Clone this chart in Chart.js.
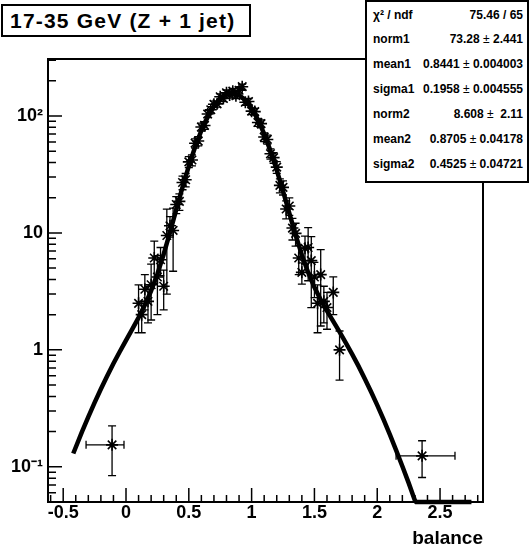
<!DOCTYPE html>
<html>
<head>
<meta charset="utf-8">
<script src="https://cdn.jsdelivr.net/npm/chart.js@4.4.1/dist/chart.umd.min.js"></script>
<style>
html,body{margin:0;padding:0;background:#fff;}
#wrap{position:relative;width:531px;height:551px;overflow:hidden;background:#fff;}
#c{position:absolute;left:0;top:0;}
#title{position:absolute;left:1px;top:4px;width:250px;height:33px;box-sizing:border-box;border:2px solid #000;background:#fff;
  font:bold 21px "Liberation Sans",Arial,sans-serif;letter-spacing:1.2px;line-height:29px;padding-left:7px;white-space:nowrap;color:#000;}
#stats{position:absolute;left:365px;top:0;width:164px;height:183px;box-sizing:border-box;border:2px solid #000;background:#fff;
  font:bold 12px "Liberation Sans",Arial,sans-serif;letter-spacing:0;padding:0.6px 4px 0 6px;color:#000;}
.row{display:flex;justify-content:space-between;height:24.83px;line-height:24.83px;white-space:pre;}
.pm{font-weight:normal;}
</style>
</head>
<body>
<div id="wrap">
<canvas id="c" width="531" height="551"></canvas>
<div id="title">17-35 GeV (Z + 1 jet)</div>
<div id="stats"></div>
</div>
<script>
// ---- fit curve ----
const fitX = [-0.42,-0.40,-0.35,-0.30,-0.25,-0.20,-0.15,-0.10,-0.05,0.00,0.05,0.10,0.15,0.20,0.25,0.30,0.35,0.40,0.45,0.50,
  0.55,0.60,0.65,0.70,0.75,0.80,0.85,0.90,0.95,1.00,1.05,1.10,1.15,1.20,1.25,1.30,1.35,1.40,1.45,1.50,
  1.55,1.60,1.65,1.70,1.75,1.80,1.85,1.90,1.95,2.00,2.05,2.10,2.15,2.20,2.25,2.30,2.31,2.75];
const fitY = [0.130,0.147,0.200,0.267,0.354,0.462,0.597,0.763,0.963,1.207,1.506,1.889,2.415,3.20,4.46,6.57,10.11,15.83,24.64,37.32,
  54.26,75.03,98.09,120.9,140.3,153.1,156.8,150.9,136.5,116.0,92.9,70.2,50.3,34.4,22.76,14.76,9.63,6.48,4.59,3.43,
  2.68,2.156,1.75,1.425,1.150,0.921,0.729,0.570,0.441,0.337,0.254,0.189,0.139,0.101,0.0728,0.0516,0.05,0.05];

// ---- histogram points ----
const binX = [0.100,0.125,0.150,0.175,0.200,0.225,0.250,0.275,0.300,0.325,0.350,0.375,0.400,0.425,0.450,0.475,0.500,0.525,0.550,0.575,
  0.600,0.625,0.650,0.675,0.700,0.725,0.750,0.775,0.800,0.825,0.850,0.875,0.900,0.925,0.950,0.975,1.000,1.025,1.050,1.075,
  1.100,1.125,1.150,1.175,1.200,1.225,1.250,1.275,1.300,1.325,1.350,1.375,1.400,1.425,1.450,1.475,1.500,1.525,1.550,1.575,
  1.600,1.650,1.700];
const binY = [2.5,2.0,3.3,2.6,3.6,6.1,4.2,5.9,3.5,9.5,11.5,10.5,17.5,18.6,27.0,28.5,40.5,42.0,58.5,61.0,
  80.5,83.0,104,113,126,127,146,141,158,151,163,149,166,178,131,133,110,109,88,86,
  66,63,47.5,44.0,36.5,25.5,24.5,16.0,17.0,11.0,9.9,6.1,4.6,7.4,7.5,5.8,4.2,2.5,4.4,2.6,
  2.3,3.1,1.0];
const binErrY = [1.1,0.6,1.1,0.9,1.8,2.4,2.2,1.6,1.3,6.5,2.3,5.8,2.9,3.0,3.6,3.7,4.4,4.5,5.3,5.4,
  6.2,6.3,7.0,7.3,7.7,7.8,8.3,8.2,8.7,8.5,8.8,8.4,8.9,9.2,7.9,8.0,7.2,7.2,6.5,6.4,
  5.6,5.5,4.8,4.6,4.2,3.5,3.4,2.8,2.9,2.3,2.2,1.7,0.95,2.0,3.6,3.5,1.4,1.1,2.8,0.9,
  0.8,1.1,0.45];
const binHalfWidth = 0.0125;

// ---- wide tail bins ----
const tailX = [-0.111, 2.357];
const tailY = [0.154, 0.124];
const tailErrY = [0.070, 0.043];
const tailErrXLow = [0.207, 0.207];
const tailErrXHigh = [0.095, 0.262];

// ---- axes ----
const xRange = [-0.621, 2.842];
const yRange = [0.05, 307];
const xTicks = [-0.5, 0, 0.5, 1, 1.5, 2, 2.5];
const xTickLabels = ['-0.5', '0', '0.5', '1', '1.5', '2', '2.5'];
const yTicks = [0.1, 1, 10, 100];
const yTickLabels = ['10\u207B\u00B9', '1', '10', '10\u00B2'];
const xTitle = 'balance';

// ---- stats box ----
const statLabels = ['\u03C7\u00B2 / ndf', 'norm1', 'mean1', 'sigma1', 'norm2', 'mean2', 'sigma2'];
const statValues = ['75.46 / 65', '73.28 \u00B1 2.441', '0.8441 \u00B1 0.004003', '0.1958 \u00B1 0.004555',
  '8.608 \u00B1  2.11', '0.8705 \u00B1 0.04178', '0.4525 \u00B1 0.04721'];

const statsEl = document.getElementById('stats');
statLabels.forEach((lab, i) => {
  const row = document.createElement('div'); row.className = 'row';
  const l = document.createElement('span'); l.textContent = lab;
  const v = document.createElement('span');
  const parts = statValues[i].split('\u00B1');
  v.appendChild(document.createTextNode(parts[0]));
  if (parts.length > 1) {
    const pm = document.createElement('span'); pm.className = 'pm'; pm.textContent = '\u00B1';
    v.appendChild(pm); v.appendChild(document.createTextNode(parts[1]));
  }
  row.appendChild(l); row.appendChild(v); statsEl.appendChild(row);
});

const points = binX.map((x, i) => ({x, y: binY[i]})).concat(tailX.map((x, i) => ({x, y: tailY[i]})));
const errs = binX.map((x, i) => ({exl: binHalfWidth, exh: binHalfWidth, ey: binErrY[i]}))
  .concat(tailX.map((x, i) => ({exl: tailErrXLow[i], exh: tailErrXHigh[i], ey: tailErrY[i]})));

const errorBars = {
  id: 'errorBars',
  afterDatasetsDraw(chart) {
    const {ctx, scales: {x, y}} = chart;
    ctx.save();
    ctx.strokeStyle = '#000'; ctx.lineWidth = 1.3;
    ctx.beginPath();
    chart.data.datasets.forEach(ds => {
      if (!ds.errors) return;
      ds.data.forEach((p, i) => {
        const e = ds.errors[i];
        const px = x.getPixelForValue(p.x), py = y.getPixelForValue(p.y);
        const lo = Math.max(p.y - e.ey, y.min);
        const yl = y.getPixelForValue(lo), yh = y.getPixelForValue(p.y + e.ey);
        ctx.moveTo(px, yl); ctx.lineTo(px, yh);
        ctx.moveTo(px - 4, yh); ctx.lineTo(px + 4, yh);
        if (p.y - e.ey > y.min) { ctx.moveTo(px - 4, yl); ctx.lineTo(px + 4, yl); }
        const xl = x.getPixelForValue(p.x - e.exl), xh = x.getPixelForValue(p.x + e.exh);
        ctx.moveTo(xl, py); ctx.lineTo(xh, py);
        if (xh - xl > 8) {
          ctx.moveTo(xl, py - 4); ctx.lineTo(xl, py + 4);
          ctx.moveTo(xh, py - 4); ctx.lineTo(xh, py + 4);
        }
      });
    });
    ctx.stroke();
    ctx.restore();
  }
};

const frameTicks = {
  id: 'frameTicks',
  afterDraw(chart) {
    const {ctx, chartArea: a, scales: {x, y}} = chart;
    ctx.save();
    ctx.strokeStyle = '#000'; ctx.lineWidth = 1.5;
    ctx.beginPath();
    for (let k = -7; k <= 29; k++) {
      const v = k / 10;
      if (v < x.min || v > x.max) continue;
      const px = x.getPixelForValue(v);
      const major = (k % 5 === 0);
      ctx.moveTo(px, a.bottom); ctx.lineTo(px, a.bottom - (major ? 14 : 7));
    }
    for (let e = -2; e <= 2; e++) {
      for (let m = 1; m <= 9; m++) {
        const v = m * Math.pow(10, e);
        if (v < y.min || v > y.max) continue;
        const py = y.getPixelForValue(v);
        ctx.moveTo(a.left, py); ctx.lineTo(a.left + (m === 1 ? 14 : 8), py);
      }
    }
    ctx.stroke();
    ctx.lineWidth = 2;
    ctx.strokeRect(a.left, a.top, a.right - a.left, a.bottom - a.top);
    ctx.restore();
  }
};

const tickFont = {family: '"Liberation Sans", Arial, sans-serif', size: 18, weight: 'bold'};
const titleFont = {family: '"Liberation Sans", Arial, sans-serif', size: 19, weight: 'bold'};

new Chart(document.getElementById('c'), {
  type: 'scatter',
  data: {
    datasets: [
      {label: 'fit', data: fitX.map((x, i) => ({x, y: fitY[i]})), showLine: true, borderColor: '#000', borderWidth: 4.5,
        pointRadius: 0, fill: false, tension: 0, borderJoinStyle: 'round', clip: 6, order: 1},
      {label: 'data', data: points, errors: errs, pointStyle: 'star', pointRadius: 6, pointBorderWidth: 1.6,
        borderColor: '#000', backgroundColor: '#000', showLine: false, order: 0}
    ]
  },
  options: {
    responsive: false, animation: false, devicePixelRatio: 1,
    layout: {padding: {top: 59, right: 48, left: 0, bottom: 0}},
    plugins: {legend: {display: false}, tooltip: {enabled: false}},
    scales: {
      x: {
        type: 'linear', min: xRange[0], max: xRange[1],
        afterBuildTicks: s => { s.ticks = xTicks.map(v => ({value: v})); },
        afterFit: s => { s.height = 49; },
        ticks: {callback: (v, i) => xTickLabels[i], font: tickFont, color: '#000', padding: 0, maxRotation: 0, autoSkip: false},
        grid: {display: false, drawTicks: false},
        border: {display: false},
        title: {display: true, text: xTitle, align: 'end', color: '#000', font: titleFont, padding: {top: 0, bottom: 1}}
      },
      y: {
        type: 'logarithmic', min: yRange[0], max: yRange[1],
        afterBuildTicks: s => { s.ticks = yTicks.map(v => ({value: v})); },
        afterFit: s => { s.width = 48; },
        ticks: {callback: (v, i) => yTickLabels[i], font: tickFont, color: '#000', padding: 5, autoSkip: false},
        grid: {display: false, drawTicks: false},
        border: {display: false}
      }
    }
  },
  plugins: [errorBars, frameTicks]
});
</script>
</body>
</html>
